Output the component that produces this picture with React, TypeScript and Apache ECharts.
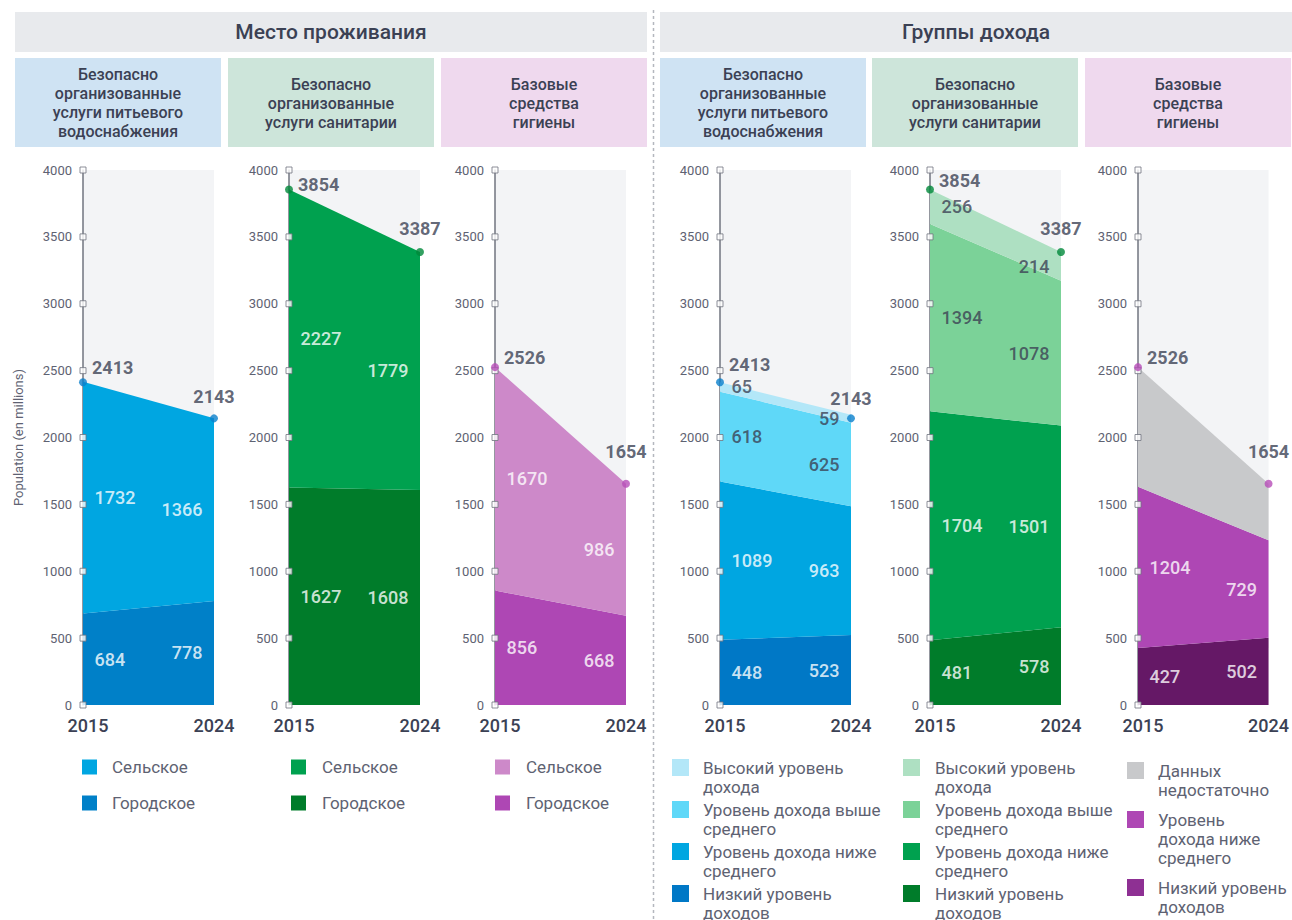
import React, { useEffect, useRef } from 'react';
import * as echarts from 'echarts';

// ---------- data ----------
const years = ['2015', '2024'];
const yTicks = [0, 500, 1000, 1500, 2000, 2500, 3000, 3500, 4000];

const residenceNames = ['Сельское', 'Городское'];
const incomeNames = ['Высокий уровень дохода', 'Уровень дохода выше среднего', 'Уровень дохода ниже среднего', 'Низкий уровень доходов'];
const insufficientName = 'Данных недостаточно';

// residence
const waterRural = [1732, 1366];
const waterUrban = [684, 778];
const waterTotal = [2413, 2143];
const sanRural = [2227, 1779];
const sanUrban = [1627, 1608];
const sanTotal = [3854, 3387];
const hygRural = [1670, 986];
const hygUrban = [856, 668];
const hygTotal = [2526, 1654];

// income
const waterHigh = [65, 59];
const waterUpperMid = [618, 625];
const waterLowerMid = [1089, 963];
const waterLow = [448, 523];
const sanHigh = [256, 214];
const sanUpperMid = [1394, 1078];
const sanLowerMid = [1704, 1501];
const sanLow = [481, 578];
const hygLowerMid = [1204, 729];
const hygLow = [427, 502];

// ---------- style ----------
const FONT = 'Roboto, "Noto Sans", sans-serif';
const DARK = '#3b4154';
const GREY = '#5e6272';
const AXIS = '#70747f';
const WHITE = '#ffffff';

type Band = { name: string; values: number[]; color: string; labelColor: string; label: boolean };
type Panel = {
  left: number;
  total: number[];
  dot: string;
  mode: 'plain' | 'scale' | 'remainder';
  bands: Band[]; // bottom to top
  remainderColor?: string;
  totalDy: number[]; // vertical nudge of the total labels (px)
};

const panels: Panel[] = [
  {
    left: 83, total: waterTotal, dot: '#0a7fcc', mode: 'plain', totalDy: [-15, -1],
    bands: [
      { name: residenceNames[1], values: waterUrban, color: '#0080c8', labelColor: WHITE, label: true },
      { name: residenceNames[0], values: waterRural, color: '#00a6e1', labelColor: WHITE, label: true },
    ],
  },
  {
    left: 289, total: sanTotal, dot: '#00883a', mode: 'plain', totalDy: [-5, -2],
    bands: [
      { name: residenceNames[1], values: sanUrban, color: '#007c2a', labelColor: WHITE, label: true },
      { name: residenceNames[0], values: sanRural, color: '#00a14f', labelColor: WHITE, label: true },
    ],
  },
  {
    left: 495, total: hygTotal, dot: '#b64db8', mode: 'plain', totalDy: [-10, -11],
    bands: [
      { name: residenceNames[1], values: hygUrban, color: '#ae47b4', labelColor: WHITE, label: true },
      { name: residenceNames[0], values: hygRural, color: '#cd89c9', labelColor: WHITE, label: true },
    ],
  },
  {
    left: 720, total: waterTotal, dot: '#0a7fcc', mode: 'scale', totalDy: [-18, 1],
    bands: [
      { name: incomeNames[3], values: waterLow, color: '#0078c6', labelColor: WHITE, label: true },
      { name: incomeNames[2], values: waterLowerMid, color: '#00a6e1', labelColor: WHITE, label: true },
      { name: incomeNames[1], values: waterUpperMid, color: '#5fd8f8', labelColor: DARK, label: true },
      { name: incomeNames[0], values: waterHigh, color: '#b3e7f8', labelColor: DARK, label: true },
    ],
  },
  {
    left: 930, total: sanTotal, dot: '#00883a', mode: 'scale', totalDy: [-9, -2],
    bands: [
      { name: incomeNames[3], values: sanLow, color: '#007c2a', labelColor: WHITE, label: true },
      { name: incomeNames[2], values: sanLowerMid, color: '#00a14f', labelColor: WHITE, label: true },
      { name: incomeNames[1], values: sanUpperMid, color: '#7bd298', labelColor: DARK, label: true },
      { name: incomeNames[0], values: sanHigh, color: '#aee0c2', labelColor: DARK, label: true },
    ],
  },
  {
    left: 1138, total: hygTotal, dot: '#b64db8', mode: 'remainder', remainderColor: '#c8c9cb', totalDy: [-10, -11],
    bands: [
      { name: incomeNames[3], values: hygLow, color: '#651866', labelColor: WHITE, label: true },
      { name: incomeNames[2], values: hygLowerMid, color: '#ae47b4', labelColor: WHITE, label: true },
    ],
  },
];

const GRID_TOP = 170;
const GRID_H = 535;
const GRID_W = 131;

function displayBands(p: Panel) {
  const out = p.bands.map((b) => ({ ...b, display: b.values.slice() }));
  const rem: number[] = [];
  years.forEach((_, i) => {
    const sum = p.bands.reduce((s, b) => s + b.values[i], 0);
    if (p.mode === 'scale') {
      const f = Math.max(1, p.total[i] / sum);
      out.forEach((b) => (b.display[i] = b.values[i] * f));
    }
    rem.push(p.total[i] - sum);
  });
  if (p.mode === 'remainder') {
    out.push({ name: insufficientName, values: rem, display: rem, color: p.remainderColor!, labelColor: DARK, label: false });
  }
  return out;
}

function buildOption() {
  const grid: any[] = [];
  const xAxis: any[] = [];
  const yAxis: any[] = [];
  const series: any[] = [];

  panels.forEach((p, pi) => {
    grid.push({ left: p.left, top: GRID_TOP, width: GRID_W, height: GRID_H, show: true, backgroundColor: '#f3f4f6', borderWidth: 0 });
    xAxis.push({
      type: 'category', gridIndex: pi, data: [{ value: years[0], textStyle: { padding: [0, 0, 0, 10] } }, years[1]], boundaryGap: false,
      axisLine: { show: false }, axisTick: { show: false }, splitLine: { show: false },
      axisLabel: { fontSize: 18, fontWeight: 500, color: DARK, margin: 11, fontFamily: FONT },
    });
    yAxis.push({
      type: 'value', gridIndex: pi, min: 0, max: 4000, interval: 500,
      splitLine: { show: false }, axisTick: { show: false },
      axisLine: { show: true, lineStyle: { color: AXIS, width: 1.5 } },
      axisLabel: { fontSize: 13, color: GREY, margin: 11, fontFamily: FONT, formatter: (v: number) => String(v) },
      ...(pi === 0 ? { name: 'Population (en millions)', nameLocation: 'middle', nameGap: 58, nameTextStyle: { fontSize: 13, color: GREY, fontFamily: FONT } } : {}),
    });

    const bands = displayBands(p);
    bands.forEach((b) => {
      series.push({
        type: 'line', name: b.name, xAxisIndex: pi, yAxisIndex: pi, stack: 'st' + pi, data: b.display,
        symbol: 'none', showSymbol: false, silent: true, z: 2,
        lineStyle: { width: 0, opacity: 0 }, itemStyle: { color: b.color },
        areaStyle: { color: b.color, opacity: 1 },
      });
    });

    // value labels at band middles
    const labelData: any[] = [];
    years.forEach((_, yi) => {
      let base = 0;
      bands.forEach((b) => {
        const mid = base + b.display[yi] / 2;
        base += b.display[yi];
        if (!b.label) return;
        labelData.push({
          value: [yi, mid, b.values[yi]],
          label: { position: yi === 0 ? 'right' : 'left', color: b.labelColor },
        });
      });
    });
    series.push({
      type: 'scatter', xAxisIndex: pi, yAxisIndex: pi, data: labelData, symbolSize: 1, silent: true, z: 5, clip: false,
      itemStyle: { color: 'rgba(0,0,0,0)' },
      label: { show: true, distance: 11, fontSize: 18, fontWeight: 500, fontFamily: FONT, formatter: (q: any) => String(q.value[2]) },
    });

    // axis tick squares
    series.push({
      type: 'scatter', xAxisIndex: pi, yAxisIndex: pi, data: yTicks.map((v) => [0, v]), symbol: 'rect', symbolSize: 6,
      silent: true, z: 6, clip: false,
      itemStyle: { color: '#ffffff', borderColor: AXIS, borderWidth: 1 },
    });

    // totals
    series.push({
      type: 'scatter', xAxisIndex: pi, yAxisIndex: pi, symbolSize: 8, silent: true, z: 7, clip: false,
      itemStyle: { color: p.dot },
      data: [
        { value: [0, p.total[0]], label: { position: 'right', distance: 5, offset: [0, p.totalDy[0]] } },
        { value: [1, p.total[1]], label: { position: 'top', distance: 8, offset: [0, p.totalDy[1]] } },
      ],
      label: { show: true, fontSize: 18, fontWeight: 'bold', color: DARK, fontFamily: FONT, formatter: (q: any) => String(q.value[1]) },
    });
  });

  // ---------- graphics ----------
  const graphic: any[] = [];
  const header = (x: number, w: number, text: string) => {
    graphic.push({ type: 'rect', shape: { x, y: 12, width: w, height: 40 }, style: { fill: '#e8eaed' }, silent: true });
    graphic.push({ type: 'text', x: x + w / 2, y: 32, style: { text, fill: DARK, fontSize: 21, fontWeight: 500, fontFamily: FONT, align: 'center', verticalAlign: 'middle' }, silent: true });
  };
  header(15, 632, 'Место проживания');
  header(660, 632, 'Группы дохода');

  const subTexts = [
    'Безопасно\nорганизованные\nуслуги питьевого\nводоснабжения',
    'Безопасно\nорганизованные\nуслуги санитарии',
    'Базовые\nсредства\nгигиены',
  ];
  const subFills = ['#cfe3f3', '#cde5da', '#efd9ee'];
  const subX = [15, 228, 441, 660, 872, 1085];
  subX.forEach((x, i) => {
    graphic.push({ type: 'rect', shape: { x, y: 58, width: 206, height: 89 }, style: { fill: subFills[i % 3] }, silent: true });
    graphic.push({ type: 'text', x: x + 103, y: 103, style: { text: subTexts[i % 3], fill: DARK, fontSize: 16, fontWeight: 500, lineHeight: 19, fontFamily: FONT, align: 'center', verticalAlign: 'middle' }, silent: true });
  });

  graphic.push({ type: 'line', shape: { x1: 653.5, y1: 10, x2: 653.5, y2: 920 }, style: { stroke: '#b4b7be', lineWidth: 1.5, lineDash: [3, 3] }, silent: true });

  // left legends
  const leftSwatchX = [82, 291, 495];
  const leftTextX = [112, 322, 526];
  const rowY = [767, 803];
  [0, 1, 2].forEach((pi) => {
    const p = panels[pi];
    const items = [p.bands[1], p.bands[0]];
    items.forEach((b, k) => {
      graphic.push({ type: 'rect', shape: { x: leftSwatchX[pi], y: rowY[k] - 7.5, width: 15, height: 15 }, style: { fill: b.color }, silent: true });
      graphic.push({ type: 'text', x: leftTextX[pi], y: rowY[k], style: { text: b.name, fill: GREY, fontSize: 17, fontFamily: FONT, verticalAlign: 'middle' }, silent: true });
    });
  });

  // right legends
  const incomeLabels = ['Высокий уровень\nдохода', 'Уровень дохода выше\nсреднего', 'Уровень дохода ниже\nсреднего', 'Низкий уровень\nдоходов'];
  const hygLabels: Record<string, string> = {
    [insufficientName]: 'Данных\nнедостаточно',
    [incomeNames[2]]: 'Уровень\nдохода ниже\nсреднего',
    [incomeNames[3]]: 'Низкий уровень\nдоходов',
  };
  const rightSwatchX = [672, 903, 1127];
  const rightTextX = [703, 935, 1158];
  [3, 4, 5].forEach((pi, k) => {
    const bands = displayBands(panels[pi]).slice().reverse();
    let y = pi === 5 ? 771 : 768;
    const gap = pi === 5 ? 11 : 4;
    bands.forEach((b) => {
      const text = pi === 5 ? hygLabels[b.name] : incomeLabels[incomeNames.indexOf(b.name)];
      const lines = text.split('\n').length;
      const legendColor = pi === 5 && b.name === incomeNames[3] ? '#8e3093' : b.color;
      graphic.push({ type: 'rect', shape: { x: rightSwatchX[k], y: y - 9, width: 17, height: 17 }, style: { fill: legendColor }, silent: true });
      graphic.push({ type: 'text', x: rightTextX[k], y: y - 9.5, style: { text, fill: GREY, fontSize: 17, lineHeight: 19, fontFamily: FONT, verticalAlign: 'top' }, silent: true });
      y += lines * 19 + gap;
    });
  });

  return {
    animation: false,
    backgroundColor: '#ffffff',
    textStyle: { fontFamily: FONT },
    grid, xAxis, yAxis, series, graphic,
  };
}

export default function App() {
  const ref = useRef<HTMLDivElement>(null);
  useEffect(() => {
    const chart = echarts.init(ref.current!, null, { renderer: 'svg' });
    chart.setOption(buildOption() as any);
    return () => chart.dispose();
  }, []);
  return <div ref={ref} style={{ width: 1292, height: 920, position: 'absolute', left: 0, top: 0 }} />;
}
